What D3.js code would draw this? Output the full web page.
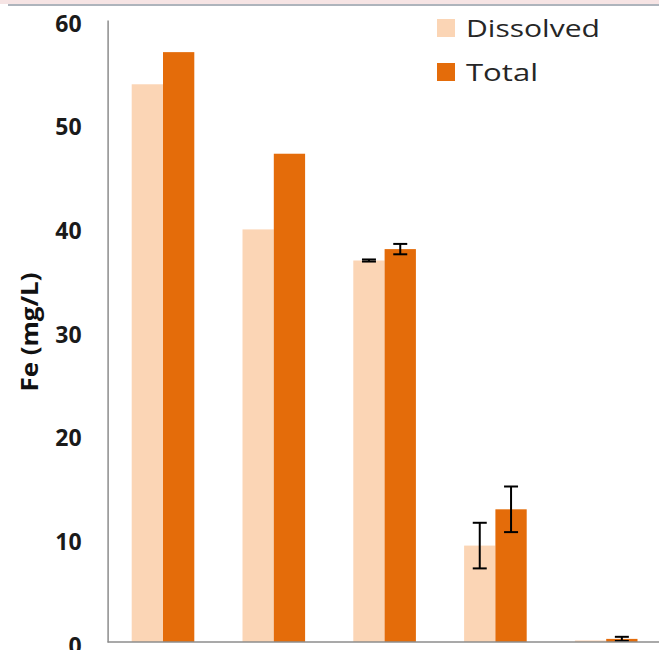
<!DOCTYPE html>
<html><head><meta charset="utf-8">
<script src="https://cdn.jsdelivr.net/npm/d3@7"></script>
<style>body{margin:0;background:#fff}svg{display:block}</style>
</head><body>
<svg id="c" width="659" height="650"></svg>
<script>
const categories = ["A","B","C","D","E"];
const dissolved = [53.8, 39.8, 36.8, 9.3, 0.15];
const total = [56.9, 47.1, 37.9, 12.8, 0.3];
const dissolvedErr = [0, 0, 0.1, 2.2, 0];
const totalErr = [0, 0, 0.5, 2.2, 0.2];
const yTicks = [0,10,20,30,40,50,60];
const seriesNames = ["Dissolved","Total"];
const colors = ["#FBD5B5","#E46C0A"];

const svg = d3.select("#c");
// top decorative band
svg.append("rect").attr("x",0).attr("y",0).attr("width",659).attr("height",4).attr("fill","#F6E4E4");
svg.append("rect").attr("x",8).attr("y",4).attr("width",651).attr("height",2).attr("fill","#AEB4BC");

const x0 = 107.6, plotW = 554, y0 = 642, yTop = 20;
const x = d3.scaleBand().domain(categories).range([x0, x0+plotW]).paddingInner(0.435).paddingOuter(0.2175);
const xs = d3.scaleBand().domain(seriesNames).range([0, x.bandwidth()]);
const y = d3.scaleLinear().domain([0,60]).range([y0, yTop]);

const data = categories.map((c,i)=>[
  {c, s:"Dissolved", v:dissolved[i], e:dissolvedErr[i], col:colors[0]},
  {c, s:"Total", v:total[i], e:totalErr[i], col:colors[1]}
]).flat();

svg.append("g").selectAll("rect").data(data).join("rect")
  .attr("x", d=>x(d.c)+xs(d.s)).attr("width", xs.bandwidth())
  .attr("y", d=>y(d.v)).attr("height", d=>y0-y(d.v)).attr("fill", d=>d.col);

// error bars
const eb = data.filter(d=>d.e>0);
const g = svg.append("g").attr("stroke","#000").attr("stroke-width",2);
eb.forEach(d=>{
  const cx = x(d.c)+xs(d.s)+xs.bandwidth()/2;
  g.append("line").attr("x1",cx).attr("x2",cx).attr("y1",y(d.v+d.e)).attr("y2",y(d.v-d.e));
  g.append("line").attr("x1",cx-7).attr("x2",cx+7).attr("y1",y(d.v+d.e)).attr("y2",y(d.v+d.e));
  g.append("line").attr("x1",cx-7).attr("x2",cx+7).attr("y1",y(d.v-d.e)).attr("y2",y(d.v-d.e));
});

// axes
const yAxis = d3.axisLeft(y).tickValues(yTicks).tickSize(0).tickPadding(26);
const ya = svg.append("g").attr("transform",`translate(${x0},0)`).call(yAxis);
ya.select(".domain").attr("stroke","#8c8c8c").attr("stroke-width",1.5);
ya.selectAll("text").attr("font-family","'Open Sans', sans-serif").attr("font-weight","bold")
  .attr("font-size",23).attr("fill","#1a1a1a").attr("dy","0.36em")
  .attr("transform","translate(0,3)");
svg.append("line").attr("x1",x0).attr("x2",659).attr("y1",y0).attr("y2",y0).attr("stroke","#8c8c8c").attr("stroke-width",1.5);

svg.append("text").attr("transform","translate(38,332) rotate(-90)").attr("text-anchor","middle")
  .attr("font-family","'Open Sans', sans-serif").attr("font-weight","bold").attr("font-size",23).attr("fill","#111")
  .attr("textLength",119).attr("lengthAdjust","spacingAndGlyphs")
  .text("Fe (mg/L)");

// legend
const lg = svg.append("g");
seriesNames.forEach((s,i)=>{
  const ly = 28 + i*44;
  lg.append("rect").attr("x",437).attr("y",ly-9).attr("width",18).attr("height",18).attr("fill",colors[i]);
  const t = lg.append("text").attr("x",466).attr("y",ly).attr("dy","0.36em").attr("font-family","'Open Sans', sans-serif")
    .attr("font-size",24).attr("fill","#262626").text(s);
  t.attr("textLength", i===0 ? 134 : 72).attr("lengthAdjust","spacingAndGlyphs");
});
</script>
</body></html>
